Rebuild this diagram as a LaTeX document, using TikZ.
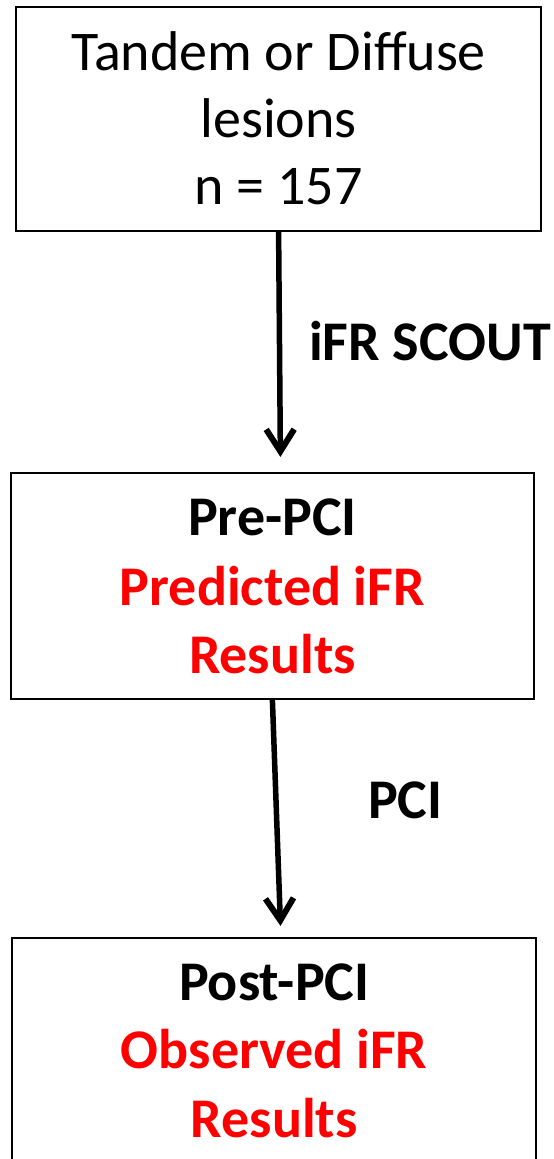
\documentclass[tikz,border=0pt]{standalone}
\usepackage{fontspec}
\setmainfont{Carlito}
\usetikzlibrary{arrows.meta,calc}
\definecolor{resultred}{RGB}{255,0,0}
\tikzset{
  flowbox/.style={draw=black, line width=2.2bp, inner sep=0pt},
  txtline/.style={anchor=base, inner sep=0pt, font=\fontsize{56bp}{67bp}\selectfont},
  boldline/.style={anchor=base, inner sep=0pt, font=\fontsize{56bp}{67bp}\selectfont\bfseries},
  redline/.style={boldline, text=resultred},
  flow/.style={line width=5.5bp, -{Straight Barb[length=22bp,width=28bp,line width=6bp]}}
}
\begin{document}
\begin{tikzpicture}[x=1bp,y=-1bp]
  \clip (0,0) rectangle (554,1159);
  \fill[white] (0,0) rectangle (554,1159);

  % boxes
  \node[flowbox, minimum width=525bp, minimum height=224bp] (top) at (278.6,119) {};
  \node[flowbox, minimum width=523bp, minimum height=226bp] (mid) at (272.4,586) {};
  \node[flowbox, minimum width=524bp, minimum height=250bp] (bot) at (274.2,1063) {};

  % top box text
  \node[txtline] (t1) at (278.6,70) {Tandem or Diffuse};
  \node[txtline] (t2) at (278.6,137) {lesions};
  \node[txtline] (t3) at (278.6,204) {n = 157};

  % middle box text
  \node[boldline] (m1) at (272.4,535) {Pre-PCI};
  \node[redline] (m2) at (272.4,605) {Predicted iFR};
  \node[redline] (m3) at (272.4,673) {Results};

  % bottom box text
  \node[boldline] (b1) at (274.2,1000) {Post-PCI};
  \node[redline] (b2) at (274.2,1068) {Observed iFR};
  \node[redline] (b3) at (274.2,1137) {Results};

  % connectors and their labels
  \draw[flow] (top.south) -- ($(mid.north)+(8,-15)$);
  \draw[flow] (mid.south) -- ($(bot.north)+(6.3,-11)$);
  \node[boldline, anchor=base west] (scout) at (309,360) {iFR SCOUT};
  \node[boldline, anchor=base west] (pci) at (368,818) {PCI};
\end{tikzpicture}
\end{document}
